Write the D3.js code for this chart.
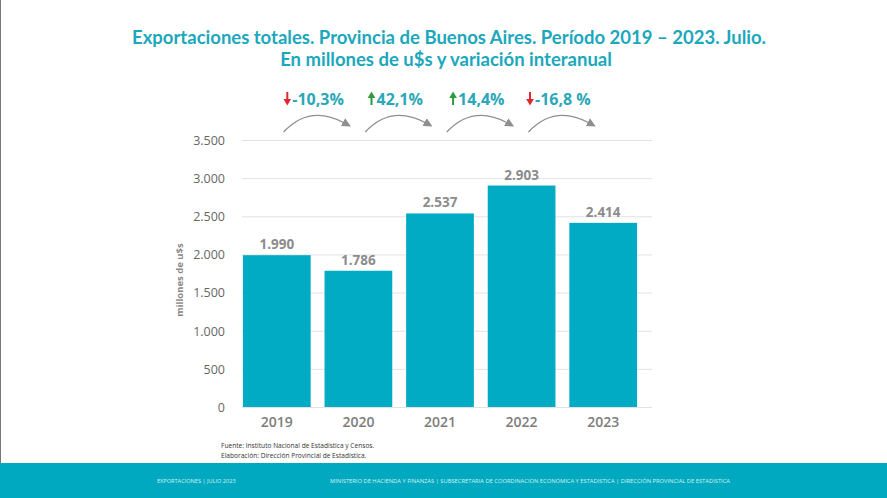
<!DOCTYPE html>
<html>
<head>
<meta charset="utf-8">
<script src="https://cdn.jsdelivr.net/npm/d3@7"></script>
<style>
  html, body { margin: 0; padding: 0; background: #fff; }
  svg { display: block; }
</style>
</head>
<body>
<svg id="chart" width="887" height="498"></svg>
<script>
// ---- data ----
const years = ["2019", "2020", "2021", "2022", "2023"];
const exportsUSD = [1990, 1786, 2537, 2903, 2414];
const valueLabels = ["1.990", "1.786", "2.537", "2.903", "2.414"];
const yTicks = [0, 500, 1000, 1500, 2000, 2500, 3000, 3500];
const yTickLabels = ["0", "500", "1.000", "1.500", "2.000", "2.500", "3.000", "3.500"];
const variations = ["-10,3%", "42,1%", "14,4%", "-16,8 %"];
const variationDir = ["down", "up", "up", "down"];
const titleLines = [
  "Exportaciones totales. Provincia de Buenos Aires. Período 2019 – 2023. Julio.",
  "En millones de u$s y variación interanual"
];
const sourceLines = [
  "Fuente: Instituto Nacional de Estadística y Censos.",
  "Elaboración: Dirección Provincial de Estadística."
];
const footerLeft = "EXPORTACIONES | JULIO 2023";
const footerRight = "MINISTERIO DE HACIENDA Y FINANZAS | SUBSECRETARIA DE COORDINACION ECONOMICA Y ESTADISTICA | DIRECCIÓN PROVINCIAL DE ESTADISTICA";

// ---- styles ----
const teal = "#00abc3";
const titleColor = "#1ba7bc";
const grayText = "#8c8c8c";
const svg = d3.select("#chart");

// left border like the screenshot
svg.append("line").attr("x1", 0.5).attr("x2", 0.5).attr("y1", 0).attr("y2", 498)
  .attr("stroke", "#777").attr("stroke-width", 1);

// ---- title ----
const tLine1 = svg.append("text")
  .attr("x", 449).attr("y", 44)
  .attr("text-anchor", "middle")
  .attr("font-family", "Lato, 'Open Sans', sans-serif")
  .attr("font-weight", 700)
  .attr("font-size", 18)
  .attr("fill", titleColor)
  .text(titleLines[0]);
// fit to reference width
const w1 = tLine1.node().getComputedTextLength();
const titleSize = Math.min(18.5, 18 * 645 / w1);
tLine1.attr("font-size", titleSize);
svg.append("text")
  .attr("x", 446).attr("y", 66)
  .attr("text-anchor", "middle")
  .attr("font-family", "Lato, 'Open Sans', sans-serif")
  .attr("font-weight", 700)
  .attr("font-size", titleSize)
  .attr("fill", titleColor)
  .text(titleLines[1]);

// ---- scales ----
const x = d3.scaleBand().domain(years).range([236, 644]).paddingInner(0.17).paddingOuter(0.085);
const y = d3.scaleLinear().domain([0, 3500]).range([407, 140]);

// gridlines
svg.append("g").selectAll("line").data(yTicks).join("line")
  .attr("x1", 242).attr("x2", 652)
  .attr("y1", d => y(d) + 0.5).attr("y2", d => y(d) + 0.5)
  .attr("stroke", "#e2e2e2").attr("stroke-width", 1);

// y axis labels
const yAxis = d3.axisLeft(y).tickValues(yTicks)
  .tickFormat((d, i) => yTickLabels[i]).tickSize(0).tickPadding(0);
const yg = svg.append("g").attr("transform", "translate(225,0)").call(yAxis);
yg.select(".domain").remove();
yg.selectAll("text")
  .attr("font-family", "'Open Sans', sans-serif")
  .attr("font-size", 12.5)
  .attr("fill", "#666")
  .attr("dy", "0.35em");

// y axis title
svg.append("text")
  .attr("transform", "translate(183,280) rotate(-90)")
  .attr("text-anchor", "middle")
  .attr("font-family", "'Open Sans', sans-serif")
  .attr("font-weight", 700)
  .attr("font-size", 9.5)
  .attr("fill", "#888")
  .text("millones de u$s");

// bars
svg.append("g").selectAll("rect").data(exportsUSD).join("rect")
  .attr("x", (d, i) => x(years[i]))
  .attr("width", x.bandwidth())
  .attr("y", d => y(d))
  .attr("height", d => y(0) - y(d))
  .attr("fill", teal);

// value labels
svg.append("g").selectAll("text").data(exportsUSD).join("text")
  .attr("x", (d, i) => x(years[i]) + x.bandwidth() / 2)
  .attr("y", d => y(d) - 6)
  .attr("text-anchor", "middle")
  .attr("font-family", "'Open Sans', sans-serif")
  .attr("font-weight", 700)
  .attr("font-size", 13.5)
  .attr("fill", grayText)
  .text((d, i) => valueLabels[i]);

// x axis labels
const xAxis = d3.axisBottom(x).tickSize(0).tickPadding(0);
const xg = svg.append("g").attr("transform", "translate(0,427)").call(xAxis);
xg.select(".domain").remove();
xg.selectAll("text")
  .attr("dy", 0)
  .attr("font-family", "'Open Sans', sans-serif")
  .attr("font-weight", 600)
  .attr("font-size", 14)
  .attr("fill", "#7d7d7d");

// ---- variation arrows ----
const defs = svg.append("defs");
defs.append("marker")
  .attr("id", "ah").attr("viewBox", "0 0 10 10")
  .attr("refX", 2).attr("refY", 5)
  .attr("markerWidth", 9).attr("markerHeight", 9)
  .attr("markerUnits", "userSpaceOnUse")
  .attr("orient", "auto")
  .append("path").attr("d", "M0,0 L10,5 L0,10 Z").attr("fill", "#8f8f8f");

variations.forEach((v, i) => {
  const c0 = x(years[i]) + x.bandwidth() / 2;
  const c1 = x(years[i + 1]) + x.bandwidth() / 2;
  const mid = (c0 + c1) / 2;
  // curved arrow
  svg.append("path")
    .attr("d", `M${mid - 34},132 Q${mid - 8},104 ${mid + 27},123`)
    .attr("fill", "none").attr("stroke", "#8f8f8f").attr("stroke-width", 1.3)
    .attr("marker-end", "url(#ah)");
  // label
  const g = svg.append("g");
  const txt = g.append("text")
    .attr("y", 105)
    .attr("font-family", "'Open Sans', sans-serif")
    .attr("font-weight", 700)
    .attr("font-size", 16)
    .attr("fill", "#2aa7b8")
    .text(v);
  const tw = txt.node().getComputedTextLength();
  const iconW = 8, gap = 1;
  const total = iconW + gap + tw;
  const left = mid - 4 - total / 2;
  txt.attr("x", left + iconW + gap);
  const ax = left + iconW / 2;
  const up = variationDir[i] === "up";
  const col = up ? "#2e9a3c" : "#e0262e";
  if (up) {
    g.append("path").attr("d", `M${ax - 3.8},98 L${ax},91.5 L${ax + 3.8},98 Z`).attr("fill", col);
    g.append("rect").attr("x", ax - 1).attr("y", 97).attr("width", 2).attr("height", 8).attr("fill", col);
  } else {
    g.append("rect").attr("x", ax - 1).attr("y", 92).attr("width", 2).attr("height", 8).attr("fill", col);
    g.append("path").attr("d", `M${ax - 3.8},99 L${ax},105.5 L${ax + 3.8},99 Z`).attr("fill", col);
  }
});

// ---- source notes ----
svg.append("g").selectAll("text").data(sourceLines).join("text")
  .attr("x", 221).attr("y", (d, i) => 448 + i * 10)
  .attr("font-family", "'Open Sans', sans-serif")
  .attr("font-size", 6.6)
  .attr("fill", "#333")
  .text(d => d);

// ---- footer band ----
svg.append("rect").attr("x", 0).attr("y", 463).attr("width", 887).attr("height", 35).attr("fill", "#00a9bf");
svg.append("text").attr("x", 157).attr("y", 483)
  .attr("font-family", "'Open Sans', sans-serif").attr("font-size", 5.6)
  .attr("fill", "#d6f3f7").text(footerLeft);
const fr = svg.append("text").attr("x", 330).attr("y", 483)
  .attr("font-family", "'Open Sans', sans-serif").attr("font-size", 5.6)
  .attr("fill", "#d6f3f7").text(footerRight);
fr.attr("textLength", 400).attr("lengthAdjust", "spacingAndGlyphs");
</script>
</body>
</html>
